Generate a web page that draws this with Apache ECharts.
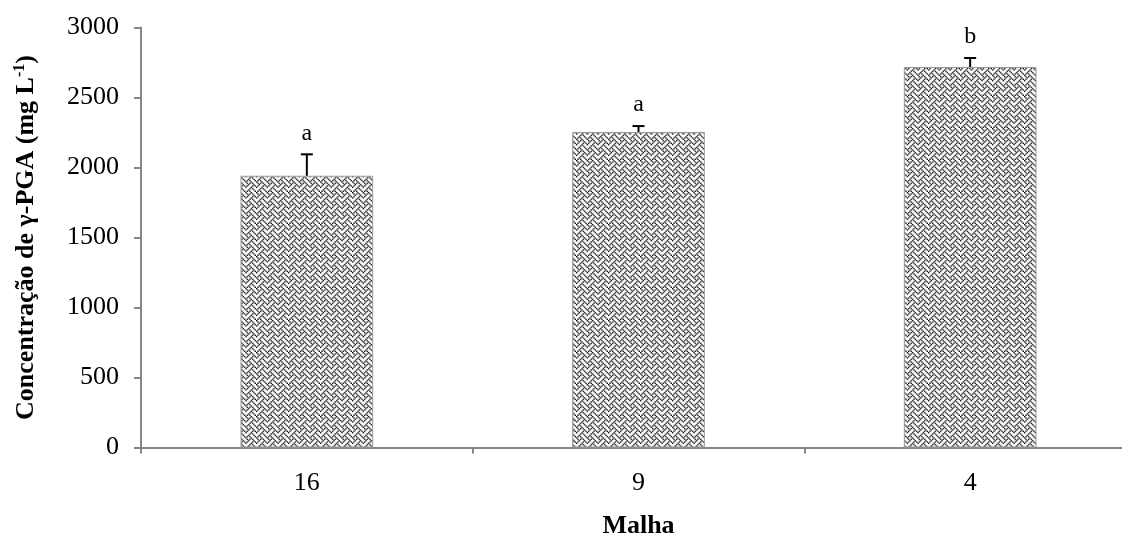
<!DOCTYPE html>
<html>
<head>
<meta charset="utf-8">
<script src="https://cdn.jsdelivr.net/npm/echarts@6/dist/echarts.min.js"></script>
<style>html,body{margin:0;padding:0;background:#fff;overflow:hidden;width:1122px;height:538px}#c{width:1122px;height:538px;overflow:hidden}</style>
</head>
<body>
<div id="c"></div>
<script>
const categories = ['16', '9', '4'];
const means = [1941, 2254, 2718];
const errors = [153, 42, 64];
const letters = ['a', 'a', 'b'];
const yTicks = [0, 500, 1000, 1500, 2000, 2500, 3000];

function makePattern() {
  const bits = [0x88, 0x54, 0x22, 0x45, 0x88, 0x14, 0x22, 0x51];
  const src = document.createElement('canvas');
  src.width = 24; src.height = 24;
  const sc = src.getContext('2d');
  sc.fillStyle = '#fff'; sc.fillRect(0, 0, 24, 24);
  sc.fillStyle = '#000';
  for (let ty = 0; ty < 3; ty++) for (let tx = 0; tx < 3; tx++)
    for (let r = 0; r < 8; r++) for (let c = 0; c < 8; c++)
      if (bits[r] & (0x80 >> c)) sc.fillRect(tx * 8 + c, ty * 8 + r, 1, 1);
  const dst = document.createElement('canvas');
  dst.width = 32; dst.height = 32;
  const dc = dst.getContext('2d');
  dc.imageSmoothingEnabled = true;
  dc.drawImage(src, 0, 0, 32, 32);
  return dst;
}

const chart = echarts.init(document.getElementById('c'), null, {renderer: 'canvas', width: 1122, height: 538});
const font = '"Liberation Serif", "Times New Roman", serif';
chart.setOption({
  animation: false,
  grid: {left: 141, top: 27.5, width: 995, height: 420, containLabel: false, outerBoundsMode: 'none'},
  xAxis: {
    type: 'category', data: categories,
    name: 'Malha', nameLocation: 'middle', nameGap: 66,
    nameTextStyle: {fontFamily: font, fontSize: 26, fontWeight: 'bold', color: '#000'},
    axisLine: {lineStyle: {color: '#868686', width: 2}},
    axisTick: {show: true, length: 6, lineStyle: {color: '#868686', width: 2}},
    axisLabel: {fontFamily: font, fontSize: 26, color: '#000', margin: 23}
  },
  yAxis: {
    type: 'value', min: 0, max: 3000, interval: 500,
    name: 'Concentração de γ-PGA (mg L{sup|-1})', nameLocation: 'middle', nameGap: 101, nameRotate: 90,
    nameTextStyle: {fontFamily: font, fontSize: 26, fontWeight: 'bold', color: '#000',
      rich: {sup: {fontFamily: font, fontSize: 16, fontWeight: 'bold', verticalAlign: 'top', padding: [0, 0, 12, 0]}}},
    axisLine: {show: true, lineStyle: {color: '#868686', width: 2}},
    axisTick: {show: true, length: 7, lineStyle: {color: '#868686', width: 2}},
    axisLabel: {fontFamily: font, fontSize: 26, color: '#000', margin: 22,
      formatter: v => yTicks.includes(v) ? String(v) : ''},
    splitLine: {show: false}
  },
  series: [
    {
      type: 'bar', data: means, barWidth: '40%',
      itemStyle: {color: {image: makePattern(), repeat: 'repeat'}, borderColor: '#9a9a9a', borderWidth: 1}
    },
    {
      type: 'custom',
      data: means.map((m, i) => [i, m, m + errors[i]]),
      renderItem: function (params, api) {
        const i = api.value(0);
        const p0 = api.coord([i, api.value(1)]);
        const p1 = api.coord([i, api.value(2)]);
        const hw = 6;
        return {
          type: 'group',
          children: [
            {type: 'line', shape: {x1: p0[0], y1: p0[1], x2: p1[0], y2: p1[1]}, style: {stroke: '#000', lineWidth: 2}},
            {type: 'line', shape: {x1: p1[0] - hw, y1: p1[1], x2: p1[0] + hw, y2: p1[1]}, style: {stroke: '#000', lineWidth: 2}},
            {type: 'text', style: {text: letters[i], x: p1[0], y: p1[1] - 9, textAlign: 'center', textVerticalAlign: 'bottom',
              fontFamily: font, fontSize: 24, fill: '#000'}}
          ]
        };
      },
      z: 5
    }
  ]
});
</script>
</body>
</html>
